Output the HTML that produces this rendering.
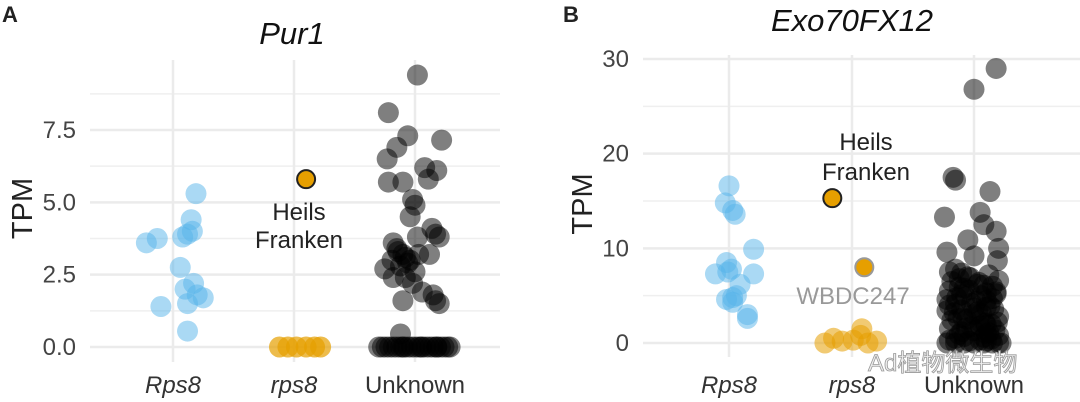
<!DOCTYPE html>
<html><head><meta charset="utf-8">
<style>
html,body{margin:0;padding:0;background:#fff;}
svg{display:block;font-family:"Liberation Sans","Noto Sans CJK SC",sans-serif;}
</style></head>
<body>
<svg id="chart" width="1080" height="402" viewBox="0 0 1080 402"></svg>
<script>
// ---------- Data (jitter in category units) ----------
const categories = ["Rps8","rps8","Unknown"];
// Panel A: Pur1
const aTicks = [0,2.5,5,7.5];
const aTickLabels = ["0.0","2.5","5.0","7.5"];
const aRps8Vals = [3.6,3.75,3.8,3.9,4.0,4.4,5.3,2.75,1.4,0.55,2.2,1.8,1.7,1.5,2.0];
const aRps8Jit  = [-0.22,-0.13,0.08,0.12,0.16,0.15,0.19,0.06,-0.10,0.12,0.17,0.2,0.25,0.12,0.1];
const aRps8mVals = [0,0,0,0,0,0];
const aRps8mJit  = [-0.12,-0.05,0.02,0.1,0.17,0.22];
const aHeilsVal = 5.8, aHeilsJit = 0.1;
const aUnkVals = [9.4,8.1,7.3,6.9,7.15,6.5,6.2,6.1,5.7,5.7,5.8,5.1,4.9,4.5,4.1,3.9,3.8,3.8,3.6,3.3,3.2,3.0,3.0,2.7,2.8,2.6,3.2,2.4,2.4,1.9,1.6,1.8,1.6,1.5,0.45,3.2,2.9,3.4,3.1,2.2,
  0,0,0,0,0,0,0,0,0,0,0,0,0,0,0,0,0,0,0,0,0,0,0,0];
const aUnkJit  = [0.02,-0.22,-0.06,-0.15,0.22,-0.23,0.08,0.18,-0.22,-0.10,0.11,-0.02,0.0,-0.04,0.14,0.17,0.2,0.02,-0.18,-0.14,-0.10,-0.04,-0.19,-0.25,-0.12,0.0,0.12,-0.18,-0.08,0.06,-0.10,0.15,0.17,0.2,-0.12,0.03,-0.06,-0.15,-0.08,-0.02,
  -0.3,-0.27,-0.24,-0.21,-0.18,-0.15,-0.12,-0.09,-0.06,-0.03,0.0,0.03,0.06,0.09,0.12,0.15,0.18,0.21,0.24,0.27,0.29,-0.1,0.05,0.18];
// Panel B: Exo70FX12
const bTicks = [0,10,20,30];
const bTickLabels = ["0","10","20","30"];
const bRps8Vals = [16.6,14.8,14.0,13.6,9.9,8.5,7.3,7.5,7.8,7.3,5.0,4.6,4.3,4.8,3.0,2.6,6.2];
const bRps8Jit  = [0.0,-0.03,0.03,0.05,0.2,-0.02,-0.11,-0.01,0.02,0.2,0.06,-0.02,0.03,0.03,0.15,0.15,0.09];
const bRps8mVals = [0,0.2,1.5,0.2,0.8,0.3,0,0.5];
const bRps8mJit  = [-0.22,-0.08,0.08,0.2,0.07,0.01,0.13,-0.15];
const bHeilsVal = 15.3, bHeilsJit = -0.16;
const bWbdcVal = 8.0, bWbdcJit = 0.1;
const bUnkVals = [29,26.8,17.5,17.2,16,13.3,13.8,12.5,11.8,10.9,9.6,10,9.2,8.7,7.5,6.8,
  7.8,7.2,6.5,6.0,5.5,5.2,4.8,4.5,4.0,3.6,3.2,2.8,2.4,2.0,1.5,1.0,0.5,
  7.0,6.2,5.8,5.0,4.2,3.8,3.0,2.5,1.8,1.2,0.6,0.2,
  6.6,5.4,4.6,3.4,2.2,1.4,0.8,0.3,0,0,0,0,0,0,0,0,
  7.4,6.9,6.4,5.9,5.3,4.9,4.4,3.9,3.5,3.1,2.6,2.1,1.7,1.1,0.7,0.3,
  6.1,5.6,4.7,4.1,3.3,2.7,1.9,1.3,0.9,0.4,5.1,3.7,2.3,1.6,0.2];
const bUnkJit  = [0.18,0.0,-0.17,-0.15,0.13,-0.24,0.05,0.08,0.18,-0.05,-0.22,0.2,0.0,0.19,-0.2,-0.12,
  -0.15,0.12,-0.18,0.15,-0.2,0.18,-0.14,0.1,-0.2,0.16,-0.16,0.2,-0.18,0.14,-0.2,0.1,-0.15,
  -0.05,0.03,-0.08,0.06,-0.02,0.1,0.0,-0.06,0.05,-0.1,0.08,-0.04,
  0.2,0.18,-0.22,-0.22,0.19,0.17,0.2,-0.2,-0.22,-0.15,-0.08,0.0,0.08,0.15,0.2,0.22,
  -0.1,-0.03,0.04,-0.12,0.1,-0.07,0.02,0.13,-0.1,0.06,-0.13,0.09,-0.02,0.12,-0.08,0.05,
  0.08,-0.04,0.15,-0.15,0.03,-0.09,0.1,0.0,-0.12,0.14,-0.1,0.0,0.04,-0.06,0.1];

// ---------- Drawing ----------
const NS="http://www.w3.org/2000/svg";
const svg=document.getElementById('chart');
function el(tag,attrs,parent){const e=document.createElementNS(NS,tag);for(const k in attrs)e.setAttribute(k,attrs[k]);(parent||svg).appendChild(e);return e;}
function txt(s,attrs){const t=el('text',attrs);t.textContent=s;return t;}

function panel(cfg){
  const y=v=>cfg.y0+(v/cfg.span)*(cfg.yTop-cfg.y0);
  const x=(c,j)=>cfg.xs[c]+j*cfg.catW;
  const g=el('g',{});
  
  
  cfg.minor.forEach(v=>el('line',{x1:cfg.gx0,x2:cfg.gx1,y1:y(v),y2:y(v),stroke:'#efefef','stroke-width':1.5},g));
  cfg.ticks.forEach(v=>el('line',{x1:cfg.gx0,x2:cfg.gx1,y1:y(v),y2:y(v),stroke:'#ebebeb','stroke-width':2.5},g));
  cfg.xs.forEach(xx=>el('line',{x1:xx,x2:xx,y1:cfg.vTop,y2:cfg.vBot,stroke:'#ebebeb','stroke-width':2.5},g));
  cfg.ticks.forEach((v,i)=>{const t=txt(cfg.tickLabels[i],{x:cfg.tx,y:y(v)+8,'text-anchor':'end','font-size':24,fill:'#444'});
    });
  categories.forEach((c,i)=>{const t=txt(c,{x:cfg.xs[i],y:393,'text-anchor':'middle','font-size':24,fill:'#333','font-style':i<2?'italic':'normal'});
    });
  const yt=txt('TPM',{x:0,y:0,transform:`translate(${cfg.ytx},${(cfg.y0+cfg.vTop)/2+5}) rotate(-90)`,'text-anchor':'middle','font-size':29,fill:'#222'});
  
  const tt=txt(cfg.title,{x:cfg.titleX,y:cfg.titleY,'text-anchor':'middle','font-size':31,'font-style':'italic',fill:'#111'});
  
  const pl=txt(cfg.letter,{x:cfg.letterX,y:22,'font-size':22,'font-weight':'bold',fill:'#222'});
  
  function pts(vals,jit,c,fill,op,name){vals.forEach((v,i)=>{const p=el('circle',{cx:x(c,jit[i]),cy:y(v),r:10.5,fill:fill,'fill-opacity':op});
    });}
  pts(cfg.rps8V,cfg.rps8J,0,'#56B4E9',0.5,'point-Rps8');
  pts(cfg.rpsmV,cfg.rpsmJ,1,'#E69F00',cfg.mOp,'point-rps8');
  pts(cfg.unkV,cfg.unkJ,2,'#000',0.5,'point-unknown');
  return {x,y};
}

const A=panel({name:'panel-a',y0:347,yTop:130,span:7.5,xs:[173,294,415],catW:121,gx0:90,gx1:500,vTop:60,vBot:362,
  ticks:aTicks,tickLabels:aTickLabels,minor:[1.25,3.75,6.25,8.75],tx:76,ytx:32,title:'Pur1',titleX:292,titleY:44,letter:'A',letterX:2,
  rps8V:aRps8Vals,rps8J:aRps8Jit,rpsmV:aRps8mVals,rpsmJ:aRps8mJit,mOp:0.7,unkV:aUnkVals,unkJ:aUnkJit});
let h=el('circle',{cx:A.x(1,aHeilsJit),cy:A.y(aHeilsVal),r:9,fill:'#E69F00',stroke:'#222','stroke-width':2});

let l=txt('Heils',{x:299,y:220,'text-anchor':'middle','font-size':24,fill:'#222'});

l=txt('Franken',{x:299,y:248,'text-anchor':'middle','font-size':24,fill:'#222'});


const B=panel({name:'panel-b',y0:343,yTop:59,span:30,xs:[729,852,974],catW:123,gx0:643,gx1:1080,vTop:55,vBot:357,
  ticks:bTicks,tickLabels:bTickLabels,minor:[5,15,25],tx:629,ytx:592,title:'Exo70FX12',titleX:852,titleY:31,letter:'B',letterX:563,
  rps8V:bRps8Vals,rps8J:bRps8Jit,rpsmV:bRps8mVals,rpsmJ:bRps8mJit,mOp:0.55,unkV:bUnkVals,unkJ:bUnkJit});
h=el('circle',{cx:B.x(1,bHeilsJit),cy:B.y(bHeilsVal),r:9,fill:'#E69F00',stroke:'#222','stroke-width':2});

h=el('circle',{cx:B.x(1,bWbdcJit),cy:B.y(bWbdcVal),r:9,fill:'#E69F00',stroke:'#999','stroke-width':2});

l=txt('Heils',{x:866,y:150,'text-anchor':'middle','font-size':24,fill:'#222'});

l=txt('Franken',{x:866,y:180,'text-anchor':'middle','font-size':24,fill:'#222'});

l=txt('WBDC247',{x:853,y:304,'text-anchor':'middle','font-size':24,fill:'#999'});

l=txt('Ad植物微生物',{x:868,y:371,'font-size':24,fill:'#eee',stroke:'#999','stroke-width':0.8});

</script>
</body></html>
